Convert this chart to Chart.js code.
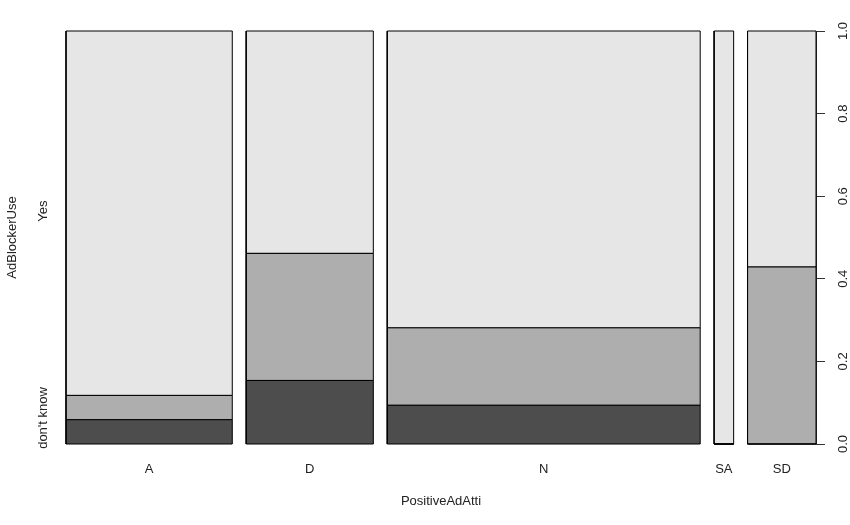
<!DOCTYPE html>
<html>
<head>
<meta charset="utf-8">
<script src="https://cdn.jsdelivr.net/npm/chart.js@4/dist/chart.umd.min.js"></script>
<style>
  html, body { margin: 0; padding: 0; background: #fff; }
  #wrap { width: 850px; height: 525px; }
</style>
</head>
<body>
<div id="wrap"><canvas id="c" width="850" height="525"></canvas></div>
<script>
// ---- data (counts read from the spineplot) ----
const categories = ["A", "D", "N", "SA", "SD"];          // PositiveAdAtti
const levels = ["don't know", "No", "Yes"];              // AdBlockerUse
const dontKnow = [1, 2, 3, 0, 0];
const no       = [1, 4, 6, 0, 3];
const yes      = [15, 7, 23, 2, 4];
const yTicks = [0, 0.2, 0.4, 0.6, 0.8, 1.0];
const leftLabels = ["don't know", "Yes"];
const leftLabelAt = [0.063, 0.564];

const levelColors = ["#4D4D4D", "#AEAEAE", "#E6E6E6"];
const gap = 0.02;

const series = [dontKnow, no, yes];
const totals = categories.map((_, i) => series.reduce((s, arr) => s + arr[i], 0));
const grand = totals.reduce((a, b) => a + b, 0);

// build rectangles from data
const datasets = [];
const centers = [];
let xpos = 0;
categories.forEach((cat, i) => {
  const w = totals[i] / grand;
  const x0 = xpos, x1 = xpos + w;
  centers.push((x0 + x1) / 2);
  let cum = 0;
  series.forEach((arr, k) => {
    const y0 = cum / totals[i];
    cum += arr[i];
    const y1 = cum / totals[i];
    datasets.push({
      type: 'scatter',
      label: cat + ' ' + levels[k],
      data: [{x: x0, y: y0}, {x: x1, y: y0}, {x: x1, y: y1}, {x: x0, y: y1}, {x: x0, y: y0}],
      showLine: true,
      fill: 'shape',
      backgroundColor: levelColors[k],
      borderColor: '#000',
      borderWidth: 1,
      pointRadius: 0,
      pointHoverRadius: 0,
      tension: 0,
      clip: false
    });
  });
  xpos = x1 + gap;
});
const xMax = xpos - gap;

const textColor = '#222';
const fontFamily = '"Liberation Sans", Arial, sans-serif';

const rotatedLabels = {
  id: 'rotatedLabels',
  afterDraw(chart) {
    const ctx = chart.ctx;
    const y = chart.scales.y;
    const area = chart.chartArea;
    ctx.save();
    ctx.fillStyle = textColor;
    ctx.font = '13px ' + fontFamily;
    ctx.textAlign = 'center';
    ctx.textBaseline = 'middle';
    const drawRot = (txt, x, py) => {
      ctx.save();
      ctx.translate(x, py);
      ctx.rotate(-Math.PI / 2);
      ctx.fillText(txt, 0, 0);
      ctx.restore();
    };
    yTicks.forEach(v => drawRot(v.toFixed(1), area.right + 27, y.getPixelForValue(v)));
    leftLabels.forEach((t, i) => drawRot(t, area.left - 23, y.getPixelForValue(leftLabelAt[i])));
    drawRot('AdBlockerUse', area.left - 54, (area.top + area.bottom) / 2);
    ctx.restore();
  }
};

new Chart(document.getElementById('c'), {
  type: 'scatter',
  data: { datasets },
  options: {
    responsive: false,
    animation: false,
    events: [],
    layout: { padding: { top: 31, left: 66, right: 0, bottom: 0 } },
    plugins: { legend: { display: false }, tooltip: { enabled: false } },
    scales: {
      x: {
        type: 'linear',
        min: 0,
        max: xMax,
        grid: { display: false },
        border: { display: false },
        afterBuildTicks: s => { s.ticks = centers.map(v => ({ value: v })); },
        afterFit: s => { s.height = 81; },
        ticks: {
          padding: 10,
          color: textColor,
          font: { size: 13, family: fontFamily },
          callback: (v, i) => categories[i],
          maxRotation: 0,
          autoSkip: false
        },
        title: {
          display: true,
          text: 'PositiveAdAtti',
          color: textColor,
          font: { size: 13, family: fontFamily },
          padding: { top: 16, bottom: 16 }
        }
      },
      y: {
        type: 'linear',
        position: 'right',
        min: 0,
        max: 1,
        afterBuildTicks: s => { s.ticks = yTicks.map(v => ({ value: v })); },
        afterFit: s => { s.width = 34; },
        grid: { drawOnChartArea: false, drawTicks: true, tickLength: 9, color: '#333', lineWidth: 1 },
        border: { display: true, color: '#333', width: 1 },
        ticks: { display: false }
      }
    }
  },
  plugins: [rotatedLabels]
});
</script>
</body>
</html>
